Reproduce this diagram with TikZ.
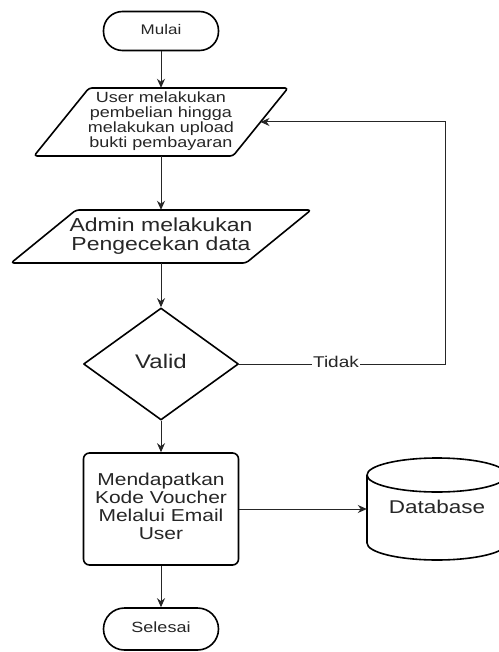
\documentclass[tikz,border=0pt]{standalone}
\usepackage{fontspec}
\setmainfont{Liberation Sans}
\usepackage{graphicx}
\usetikzlibrary{arrows.meta,shapes.geometric}

% centred block of text, slightly squeezed vertically
\newcommand\lbl[3]{\scalebox{1}[0.82]{\fontsize{#1}{#2}\selectfont\begin{tabular}{@{}c@{}}#3\end{tabular}}}

\begin{document}
\begin{tikzpicture}[x=1pt,y=-1pt,
  outline/.style={draw=black, line width=1.6pt, line join=round},
  holder/.style={inner sep=0pt, text=black!85},
  terminal/.style={holder, outline, rounded corners=19pt, minimum width=115pt, minimum height=39pt},
  process/.style={holder, outline, rounded corners=6pt, minimum width=155pt, minimum height=112pt},
  decision/.style={holder, outline, diamond, minimum width=155pt, minimum height=112pt},
  link/.style={draw=black!85, line width=1pt, -{Stealth[length=9pt,width=8pt]}},
]
\useasboundingbox (0,0) rectangle (498,652);
\fill[white] (0,0) rectangle (498,652);

% start
\node[terminal] (mulai) at (161,31) {\lbl{17}{20}{Mulai}};

% input: purchase and upload
\node[holder, minimum width=150pt, minimum height=68pt] (p1) at (161,122)
  {\lbl{18}{18.3}{User melakukan\\pembelian hingga\\melakukan upload\\bukti pembayaran}};
\draw[outline, rounded corners=3pt, shift={(p1.center)}]
  (-127,34) -- (-72,-34) -- (127,-34) -- (72,34) -- cycle;
\path (p1.center) ++(99.5,0) coordinate (p1r);

% input: admin check
\node[holder, minimum width=170pt, minimum height=53pt] (p2) at (161,236.5)
  {\lbl{23}{22}{Admin melakukan\\Pengecekan data}};
\draw[outline, rounded corners=3pt, shift={(p2.center)}]
  (-150,26.5) -- (-85,-26.5) -- (150,-26.5) -- (85,26.5) -- cycle;

% decision
\node[decision] (valid) at (161,364) {\lbl{24}{28}{Valid}};

% process
\node[process] (proc) at (161,509)
  {\lbl{21}{22}{Mendapatkan\\Kode Voucher\\Melalui Email\\User}};

% database cylinder
\node[holder, minimum width=140pt, minimum height=102pt] (db) at (437,509) {\lbl{22.5}{26}{Database}};
\begin{scope}[shift={(db.center)}]
  \draw[outline] (0,-34) ellipse [x radius=70pt, y radius=17pt];
  \draw[outline] (-70,-34) -- (-70,34)
    .. controls (-70,43.39) and (-38.66,51) .. (0,51)
    .. controls (38.66,51) and (70,43.39) .. (70,34) -- (70,-34);
\end{scope}

% end
\node[terminal, minimum height=42pt, rounded corners=21pt] (selesai) at (161,629) {\lbl{18}{20}{Selesai}};

% connectors
\draw[link] (mulai) -- (p1);
\draw[link] (p1) -- (p2);
\draw[link] (p2) -- (valid);
\draw[link] (valid) -- (proc);
\draw[link] (proc) -- (db);
\draw[link] (proc) -- (selesai);
\coordinate (bend) at (445,364);
\draw[link] (valid.east) -- node[pos=0.47, fill=white, inner sep=1pt, text=black!85] {\lbl{19}{20}{Tidak}} (bend) |- (p1r);
\end{tikzpicture}
\end{document}
